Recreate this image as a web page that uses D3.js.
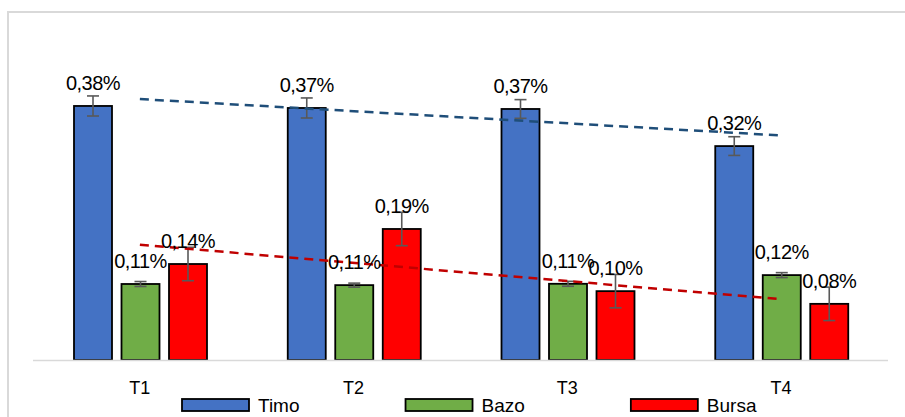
<!DOCTYPE html>
<html>
<head>
<meta charset="utf-8">
<script src="https://cdn.jsdelivr.net/npm/d3@7"></script>
<style>
  body { margin: 0; background: #fff; }
  text { font-family: "Liberation Sans", Arial, sans-serif; fill: #000; }
</style>
</head>
<body>
<script>
var categories = ["T1", "T2", "T3", "T4"];
var seriesNames = ["Timo", "Bazo", "Bursa"];
var seriesColors = ["#4472c4", "#70ad47", "#ff0000"];

// values in %
var timo = [0.380, 0.377, 0.3755, 0.320];
var bazo = [0.1137, 0.112, 0.114, 0.127];
var bursa = [0.1436, 0.196, 0.103, 0.084];

var timoErr = [0.015, 0.015, 0.014, 0.014];
var bazoErr = [0.0037, 0.003, 0.0037, 0.0037];
var bursaErr = [0.025, 0.025, 0.025, 0.025];

var timoLabels = ["0,38%", "0,37%", "0,37%", "0,32%"];
var bazoLabels = ["0,11%", "0,11%", "0,11%", "0,12%"];
var bursaLabels = ["0,14%", "0,19%", "0,10%", "0,08%"];

var allValues = [timo, bazo, bursa];
var allErr = [timoErr, bazoErr, bursaErr];
var allLabels = [timoLabels, bazoLabels, bursaLabels];

var width = 905, height = 417;

var svg = d3.select("body").append("svg")
    .attr("width", width)
    .attr("height", height);

// chart frame (only top and left visible)
svg.append("path")
    .attr("d", "M8,417V12H905")
    .attr("fill", "none")
    .attr("stroke", "#d9d9d9")
    .attr("stroke-width", 2);

var x = d3.scaleBand().domain(categories).range([33, 888]);
var xSub = d3.scaleBand().domain(seriesNames).range([41, 174]).paddingInner(0.2);
var y = d3.scaleLinear().domain([0, 0.4]).range([360, 92.6]);

// bars
var rows = [];
seriesNames.forEach(function (s, si) {
    categories.forEach(function (c, ci) {
        rows.push({ s: s, si: si, c: c, v: allValues[si][ci], e: allErr[si][ci], label: allLabels[si][ci] });
    });
});

svg.selectAll("rect.bar").data(rows).enter().append("rect")
    .attr("class", "bar")
    .attr("x", function (d) { return x(d.c) + xSub(d.s); })
    .attr("y", function (d) { return y(d.v); })
    .attr("width", xSub.bandwidth())
    .attr("height", function (d) { return y(0) - y(d.v); })
    .attr("fill", function (d) { return seriesColors[d.si]; })
    .attr("stroke", "#000")
    .attr("stroke-width", 1.8);

// baseline
svg.append("line")
    .attr("x1", 33).attr("x2", 888)
    .attr("y1", y(0) + 0.5).attr("y2", y(0) + 0.5)
    .attr("stroke", "#d9d9d9")
    .attr("stroke-width", 1.5);

// error bars
var eb = svg.selectAll("g.err").data(rows).enter().append("g")
    .attr("class", "err")
    .attr("stroke", "#595959")
    .attr("stroke-width", 1.6);
function cx(d) { return x(d.c) + xSub(d.s) + xSub.bandwidth() / 2; }
eb.append("line")
    .attr("x1", cx).attr("x2", cx)
    .attr("y1", function (d) { return y(d.v + d.e); })
    .attr("y2", function (d) { return y(d.v - d.e); });
eb.append("line")
    .attr("x1", function (d) { return cx(d) - 6; }).attr("x2", function (d) { return cx(d) + 6; })
    .attr("y1", function (d) { return y(d.v + d.e); })
    .attr("y2", function (d) { return y(d.v + d.e); });
eb.append("line")
    .attr("x1", function (d) { return cx(d) - 6; }).attr("x2", function (d) { return cx(d) + 6; })
    .attr("y1", function (d) { return y(d.v - d.e); })
    .attr("y2", function (d) { return y(d.v - d.e); });

// linear trendlines (least squares over category index)
function trend(vals) {
    var n = vals.length, mx = (n + 1) / 2, my = d3.mean(vals);
    var num = 0, den = 0;
    vals.forEach(function (v, i) { num += (i + 1 - mx) * (v - my); den += (i + 1 - mx) * (i + 1 - mx); });
    var b = num / den, a = my - b * mx;
    return [a + b * 1, a + b * n];
}
var trendDefs = [{ vals: timo, color: "#1f4e79" }, { vals: bursa, color: "#c00000" }];
trendDefs.forEach(function (t) {
    var ends = trend(t.vals);
    svg.append("line")
        .attr("x1", x(categories[0]) + x.bandwidth() / 2)
        .attr("x2", x(categories[categories.length - 1]) + x.bandwidth() / 2)
        .attr("y1", y(ends[0]))
        .attr("y2", y(ends[1]))
        .attr("stroke", t.color)
        .attr("stroke-width", 2.5)
        .attr("stroke-dasharray", "9,6");
});

// data labels
svg.selectAll("text.lbl").data(rows).enter().append("text")
    .attr("class", "lbl")
    .attr("x", cx)
    .attr("y", function (d) { return y(d.v) - 16; })
    .attr("text-anchor", "middle")
    .style("font-size", "20px")
    .style("letter-spacing", "-0.5px")
    .text(function (d) { return d.label; });

// category labels
svg.selectAll("text.cat").data(categories).enter().append("text")
    .attr("class", "cat")
    .attr("x", function (d) { return x(d) + x.bandwidth() / 2; })
    .attr("y", 394)
    .attr("text-anchor", "middle")
    .style("font-size", "18px")
    .text(function (d) { return d; });

// legend
var lx = 182;
seriesNames.forEach(function (s, i) {
    var g = svg.append("g").attr("transform", "translate(" + lx + ",399)");
    g.append("rect")
        .attr("width", 67).attr("height", 12)
        .attr("fill", seriesColors[i])
        .attr("stroke", "#000")
        .attr("stroke-width", 1.8);
    var t = g.append("text")
        .attr("x", 76).attr("y", 13)
        .style("font-size", "19px")
        .text(s);
    lx += 76 + t.node().getComputedTextLength() + 106;
});
</script>
</body>
</html>
